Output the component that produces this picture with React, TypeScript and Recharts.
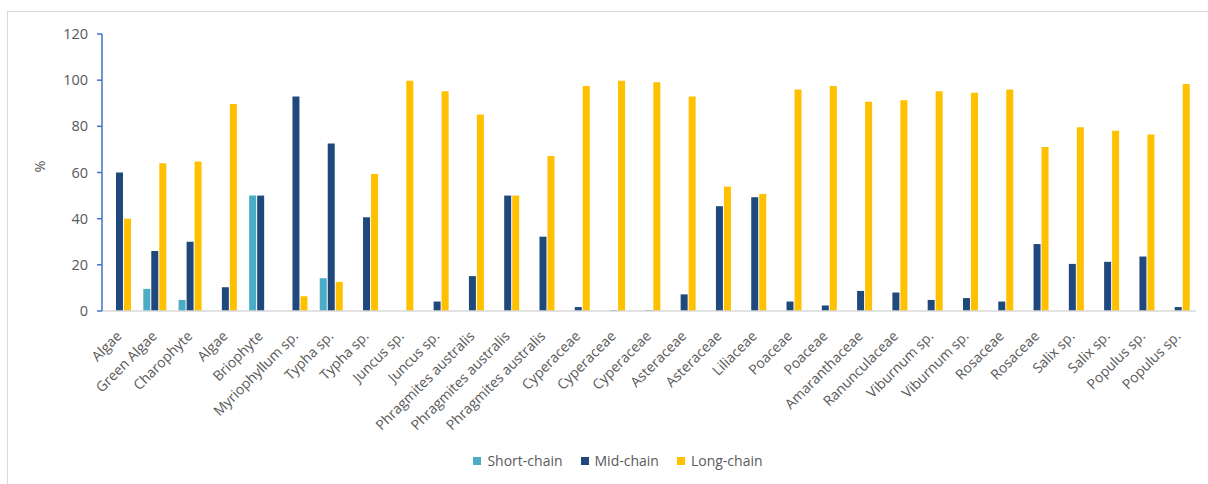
import { BarChart, Bar, XAxis, YAxis, Legend } from 'recharts';

const categories = [
  'Algae', 'Green Algae', 'Charophyte', 'Algae', 'Briophyte', 'Myriophyllum sp.',
  'Typha sp.', 'Typha sp.', 'Juncus sp.', 'Juncus sp.', 'Phragmites australis',
  'Phragmites australis', 'Phragmites australis', 'Cyperaceae', 'Cyperaceae', 'Cyperaceae',
  'Asteraceae', 'Asteraceae', 'Liliaceae', 'Poaceae', 'Poaceae', 'Amaranthaceae',
  'Ranunculaceae', 'Viburnum sp.', 'Viburnum sp.', 'Rosaceae', 'Rosaceae', 'Salix sp.',
  'Salix sp.', 'Populus sp.', 'Populus sp.',
];

const shortChain = [
  0, 9.6, 4.8, 0, 50, 0, 14.2, 0, 0, 0, 0, 0, 0, 0, 0, 0,
  0, 0, 0, 0, 0, 0, 0, 0, 0, 0, 0, 0, 0, 0, 0,
];

const midChain = [
  60, 26, 30, 10.3, 50, 92.9, 72.6, 40.6, 0, 4.1, 15.1, 50, 32.2, 1.7, 0.3, 0.3,
  7.2, 45.4, 49.3, 4.1, 2.4, 8.7, 8, 4.8, 5.6, 4.1, 29, 20.4, 21.3, 23.6, 1.7,
];

const longChain = [
  40, 64, 64.8, 89.7, 0, 6.4, 12.6, 59.4, 99.8, 95.2, 85.1, 50, 67.2, 97.5, 99.8, 99.1,
  92.9, 53.9, 50.7, 96, 97.5, 90.6, 91.3, 95.2, 94.5, 96, 71, 79.6, 78.1, 76.5, 98.3,
];

const yTicks = [0, 20, 40, 60, 80, 100, 120];

const seriesInfo = [
  { key: 'short', label: 'Short-chain', color: '#4BACC6' },
  { key: 'mid', label: 'Mid-chain', color: '#1F497D' },
  { key: 'long', label: 'Long-chain', color: '#FFC000' },
];

const data = categories.map((name, i) => ({
  name,
  short: shortChain[i],
  mid: midChain[i],
  long: longChain[i],
}));

const FONT = '"Open Sans", sans-serif';
const TEXT = '#595959';

function CategoryTick(props: any) {
  const { x, y, payload } = props;
  return (
    <text
      transform={`translate(${x + 3},${y + 24}) rotate(-45)`}
      textAnchor="end"
      fontSize={14}
      fontFamily={FONT}
      fill={TEXT}
    >
      {payload.value}
    </text>
  );
}

function LegendContent() {
  return (
    <div style={{ display: 'flex', justifyContent: 'center', gap: 18, fontFamily: FONT, fontSize: 14, color: TEXT, paddingLeft: 28 }}>
      {seriesInfo.map((s) => (
        <div key={s.key} style={{ display: 'flex', alignItems: 'center' }}>
          <span style={{ width: 8, height: 8, background: s.color, marginRight: 6, display: 'inline-block' }} />
          {s.label}
        </div>
      ))}
    </div>
  );
}

export default function App() {
  return (
    <div style={{ position: 'fixed', left: 0, top: 0, width: 1208, height: 484, background: '#fff' }}>
      <div
        style={{
          position: 'absolute',
          left: 7,
          top: 11,
          width: 1201,
          height: 473,
          borderTop: '1px solid #D9D9D9',
          borderLeft: '1px solid #D9D9D9',
        }}
      />
      <BarChart
        width={1208}
        height={484}
        data={data}
        margin={{ top: 34, right: 12, bottom: 44, left: 0 }}
        barSize={7}
        barGap={1}
        style={{ position: 'absolute', left: 0, top: 0 }}
      >
        <XAxis
          dataKey="name"
          interval={0}
          height={110}
          tickLine={false}
          tickSize={0}
          axisLine={{ stroke: '#D9D9D9', strokeWidth: 1.5 }}
          tick={<CategoryTick />}
        />
        <YAxis
          width={102}
          domain={[0, 120]}
          ticks={yTicks}
          interval={0}
          axisLine={{ stroke: '#4472C4', strokeWidth: 1.5 }}
          tickLine={{ stroke: '#4472C4', strokeWidth: 1.5 }}
          tickSize={5}
          tickMargin={9}
          tick={{ fill: TEXT, fontSize: 14.5, fontFamily: FONT }}
          label={{ value: '%', angle: -90, position: 'insideLeft', offset: 40, fill: TEXT, fontSize: 14.5, fontFamily: FONT }}
        />
        <Legend
          content={<LegendContent />}
          wrapperStyle={{ left: 0, width: 1208, top: 451 }}
        />
        {seriesInfo.map((s) => (
          <Bar key={s.key} dataKey={s.key} name={s.label} fill={s.color} isAnimationActive={false} />
        ))}
      </BarChart>
    </div>
  );
}
